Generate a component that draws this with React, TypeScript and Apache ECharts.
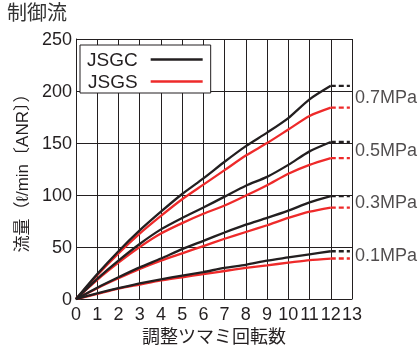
import React, { useEffect, useRef } from "react";
import * as echarts from "echarts";

const turns = [0, 1, 2, 3, 4, 5, 6, 7, 8, 9, 10, 11, 12];
const pressures = ["0.1MPa", "0.3MPa", "0.5MPa", "0.7MPa"];
const jsgc01 = [0, 5.5, 10.5, 15, 19, 22.5, 26, 30, 33, 37, 40, 43, 46];
const jsgs01 = [0, 5, 10, 14, 18, 21, 24, 27, 30, 32.5, 35, 37.5, 39];
const jsgc03 = [0, 11, 21, 30.5, 39, 48, 56, 64, 71.5, 78, 85, 93, 99];
const jsgs03 = [0, 10.5, 20, 29, 37, 44, 51, 58, 64.5, 71, 78, 84, 88];
const jsgc05 = [0, 19.5, 37, 53, 67, 78, 88, 98.5, 109, 117.5, 129, 142, 151];
const jsgs05 = [0, 18.5, 35, 50, 63, 73, 82, 90, 99.5, 109.5, 120.5, 129, 135.5];
const jsgc07 = [0, 24, 46, 66, 84, 101, 116, 132, 147, 160, 174, 192, 205];
const jsgs07 = [0, 23, 44, 63, 80, 96, 110, 124, 138, 150, 163, 176, 184];
const extendTo = 12.9;
const xTicks = [0, 13];
const yTicks = [0, 250];

const BLACK = "#231f20";
const RED = "#ee2a2a";
const FONT = "'Liberation Sans', 'Noto Sans CJK JP', sans-serif";

export default function App() {
  const ref = useRef<HTMLDivElement>(null);
  useEffect(() => {
    if (!ref.current) return;
    const chart = echarts.init(ref.current, undefined, { renderer: "svg" });
    const groups = [
      [jsgc01, jsgs01],
      [jsgc03, jsgs03],
      [jsgc05, jsgs05],
      [jsgc07, jsgs07],
    ];
    const series: any[] = [];
    groups.forEach(([c, s], i) => {
      [
        ["JSGC", c, BLACK],
        ["JSGS", s, RED],
      ].forEach(([name, vals, color]: any) => {
        series.push({
          name,
          type: "line",
          symbol: "none",
          smooth: 0.25,
          silent: true,
          lineStyle: { color, width: 2.3 },
          itemStyle: { color },
          data: turns.map((t, k) => [t, vals[k]]),
          z: name === "JSGC" ? 3 : 2,
        });
        const last = vals[vals.length - 1];
        series.push({
          name,
          type: "line",
          symbol: "none",
          silent: true,
          lineStyle: { color, width: 2.3, type: [5, 3] },
          itemStyle: { color },
          data: [
            [turns[turns.length - 1], last],
            [extendTo, last],
          ],
        });
      });
      const mid = (c[c.length - 1] + s[s.length - 1]) / 2;
      series.push({
        type: "scatter",
        symbolSize: 0,
        silent: true,
        data: [[xTicks[1], mid, pressures[i]]],
        label: {
          show: true,
          position: "right",
          distance: 3,
          formatter: (p: any) => p.value[2],
          color: BLACK,
          fontSize: 18,
          fontFamily: FONT,
        },
      });
    });

    chart.setOption({
      animation: false,
      title: {
        text: "制御流",
        left: 7,
        top: 3,
        padding: 0,
        textStyle: { fontSize: 20, fontWeight: "normal", color: "#333", fontFamily: FONT },
      },
      legend: {
        data: [
          { name: "JSGC", icon: "rect" },
          { name: "JSGS", icon: "rect" },
        ],
        orient: "vertical",
        left: 80,
        top: 45,
        align: "right",
        selectedMode: false,
        backgroundColor: "#fff",
        borderColor: BLACK,
        borderWidth: 1,
        borderRadius: 0,
        padding: [5, 8, 2, 7],
        itemGap: 3,
        itemWidth: 52,
        itemHeight: 2.5,
        textStyle: {
          fontSize: 19,
          color: BLACK,
          fontFamily: FONT,
          lineHeight: 18,
          padding: [0, 8, 0, 0],
        },
      },
      grid: { left: 76, right: 67, top: 39, bottom: 49 },
      xAxis: {
        type: "value",
        min: xTicks[0],
        max: xTicks[1],
        interval: 1,
        name: "調整ツマミ回転数",
        nameLocation: "middle",
        nameGap: 27,
        nameTextStyle: { fontSize: 18, color: BLACK, fontFamily: FONT },
        axisLine: { show: true, lineStyle: { color: BLACK, width: 1 } },
        axisTick: { show: false },
        axisLabel: { fontSize: 18, color: BLACK, fontFamily: FONT, margin: 6 },
        splitLine: { show: true, lineStyle: { color: BLACK, width: 1 } },
      },
      yAxis: {
        type: "value",
        min: yTicks[0],
        max: yTicks[1],
        interval: 50,
        name: "流量（ℓ/min〔ANR〕）",
        nameLocation: "middle",
        nameGap: 42,
        nameTextStyle: { fontSize: 17, color: BLACK, fontFamily: FONT },
        axisLine: { show: true, lineStyle: { color: BLACK, width: 1 } },
        axisTick: { show: false },
        axisLabel: { fontSize: 18, color: BLACK, fontFamily: FONT, margin: 4 },
        splitLine: { show: true, lineStyle: { color: BLACK, width: 1 } },
      },
      series,
    });
    return () => chart.dispose();
  }, []);
  return (
    <div
      ref={ref}
      style={{ position: "fixed", left: 0, top: 0, width: 419, height: 351 }}
    />
  );
}
